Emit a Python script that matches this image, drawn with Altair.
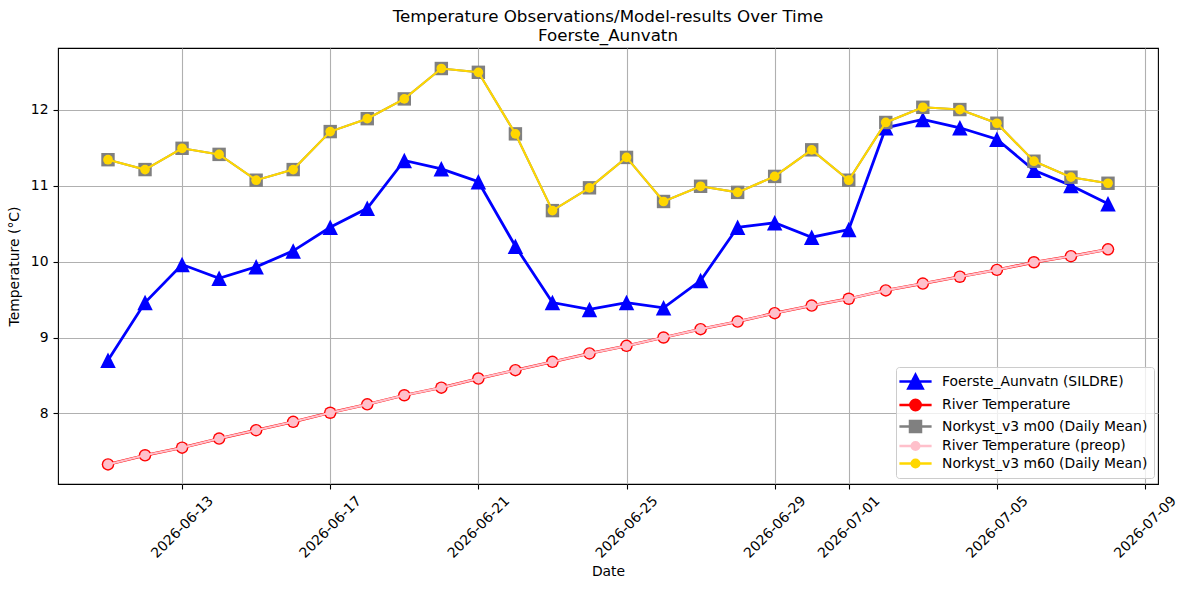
import altair as alt
import pandas as pd

dates = ["2026-06-11", "2026-06-12", "2026-06-13", "2026-06-14", "2026-06-15", "2026-06-16",
         "2026-06-17", "2026-06-18", "2026-06-19", "2026-06-20", "2026-06-21", "2026-06-22",
         "2026-06-23", "2026-06-24", "2026-06-25", "2026-06-26", "2026-06-27", "2026-06-28",
         "2026-06-29", "2026-06-30", "2026-07-01", "2026-07-02", "2026-07-03", "2026-07-04",
         "2026-07-05", "2026-07-06", "2026-07-07", "2026-07-08"]
sildre = [8.70, 9.46, 9.96, 9.78, 9.93, 10.14, 10.45, 10.70, 11.33, 11.22, 11.05, 10.20,
          9.46, 9.37, 9.46, 9.39, 9.75, 10.45, 10.51, 10.32, 10.42, 11.76, 11.87, 11.76,
          11.61, 11.20, 11.00, 10.76]
river = [7.33, 7.45, 7.55, 7.67, 7.78, 7.89, 8.01, 8.12, 8.24, 8.34, 8.46, 8.57, 8.68, 8.79,
         8.89, 9.00, 9.11, 9.21, 9.32, 9.42, 9.51, 9.62, 9.71, 9.80, 9.89, 9.99, 10.07, 10.16]
norkyst_m00 = [11.34, 11.21, 11.49, 11.41, 11.07, 11.21, 11.71, 11.88, 12.14, 12.54, 12.49, 11.68,
               10.67, 10.97, 11.37, 10.79, 10.99, 10.91, 11.12, 11.47, 11.07, 11.83, 12.03, 12.00,
               11.82, 11.32, 11.11, 11.03]
river_preop = [7.33, 7.45, 7.55, 7.67, 7.78, 7.89, 8.01, 8.12, 8.24, 8.34, 8.46, 8.57, 8.68, 8.79,
               8.89, 9.00, 9.11, 9.21, 9.32, 9.42, 9.51, 9.62, 9.71, 9.80, 9.89, 9.99, 10.07, 10.16]
norkyst_m60 = [11.34, 11.21, 11.49, 11.41, 11.07, 11.21, 11.71, 11.88, 12.14, 12.54, 12.49, 11.68,
               10.67, 10.97, 11.37, 10.79, 10.99, 10.91, 11.12, 11.47, 11.07, 11.83, 12.03, 12.00,
               11.82, 11.32, 11.11, 11.03]

series_names = ["Foerste_Aunvatn (SILDRE)", "River Temperature", "Norkyst_v3 m00 (Daily Mean)",
                "River Temperature (preop)", "Norkyst_v3 m60 (Daily Mean)"]
series_colors = ["#0000ff", "#ff0000", "#808080", "#ffc0cb", "#ffd700"]
tick_dates = ["2026-06-13", "2026-06-17", "2026-06-21", "2026-06-25", "2026-06-29",
              "2026-07-01", "2026-07-05", "2026-07-09"]
y_ticks = [8, 9, 10, 11, 12]

FONT = "DejaVu Sans"

df = pd.DataFrame({
    "date": [d + "T00:00:00" for d in dates],
    "sildre": sildre,
    "river": river,
    "m00": norkyst_m00,
    "preop": river_preop,
    "m60": norkyst_m60,
})


def dt(s, h=0, m=0):
    y, mo, d = s.split("-")
    return alt.DateTime(year=int(y), month=int(mo), date=int(d), hours=h, minutes=m)


x_scale = alt.Scale(domain=[dt("2026-06-09", 15, 36), dt("2026-07-09", 8, 24)])
y_scale = alt.Scale(domain=[7.072, 12.81], nice=False, zero=False)

x_axis = alt.Axis(values=[dt(t) for t in tick_dates], format="%Y-%m-%d", labelAngle=315,
                  labelAlign="center", labelBaseline="middle", labelPadding=38,
                  labelOverlap=False, labelFlush=False, title="Date", titlePadding=4)
y_axis = alt.Axis(values=y_ticks, title="Temperature (°C)", labelPadding=5, titlePadding=9)

X = alt.X("date:T", scale=x_scale, axis=x_axis)


def line_layer(field, color, width):
    return alt.Chart(df).mark_line(color=color, strokeWidth=width).encode(
        x=X, y=alt.Y(f"{field}:Q", scale=y_scale, axis=y_axis))


def point_layer(field, color, shape, size):
    return alt.Chart(df).mark_point(filled=True, color=color, shape=shape, size=size,
                                    opacity=1, strokeWidth=0).encode(
        x=X, y=alt.Y(f"{field}:Q", scale=y_scale, axis=y_axis))


tri = "M0,-1L1,1L-1,1Z"

layers = [
    line_layer("sildre", series_colors[0], 2.8),
    point_layer("sildre", series_colors[0], tri, 240),
    line_layer("river", series_colors[1], 2.8),
    point_layer("river", series_colors[1], "circle", 156),
    line_layer("m00", series_colors[2], 2.1),
    point_layer("m00", series_colors[2], "square", 180),
    line_layer("preop", series_colors[3], 2.1),
    point_layer("preop", series_colors[3], "circle", 94),
    line_layer("m60", series_colors[4], 2.1),
    point_layer("m60", series_colors[4], "circle", 94),
]


def circ(r):
    return f"M{r},0A{r},{r},0,1,1,-{r},0A{r},{r},0,1,1,{r},0Z"


line_seg = "M-2.3,0H2.3"
legend_paths = [
    line_seg + "M0,-1L1.05,1L-1.05,1Z",
    line_seg + circ(0.75),
    line_seg + "M-0.8,-0.8H0.8V0.8H-0.8Z",
    line_seg + circ(0.55),
    line_seg + circ(0.55),
]

leg = alt.Legend(orient="none", legendX=838, legendY=319, title=None, labelFont=FONT,
                 labelFontSize=13.9, labelColor="black", labelLimit=400, symbolSize=196,
                 symbolStrokeWidth=2.3, padding=6, symbolOffset=5, labelOffset=18,
                 rowPadding=0.5, symbolOpacity=1,
                 fillColor="rgba(255,255,255,0.8)", strokeColor="#cccccc", cornerRadius=3)

legend_df = pd.DataFrame({"series": series_names, "v": [None] * len(series_names)})
legend_layer = alt.Chart(legend_df).transform_filter("datum.v != null").mark_point(
    filled=True, opacity=1).encode(
    fill=alt.Fill("series:N", scale=alt.Scale(domain=series_names, range=series_colors), legend=leg),
    stroke=alt.Stroke("series:N", scale=alt.Scale(domain=series_names, range=series_colors), legend=leg),
    shape=alt.Shape("series:N", scale=alt.Scale(domain=series_names, range=legend_paths), legend=leg),
)

chart = alt.layer(*layers, legend_layer).properties(
    width=1100, height=436,
    autosize="none",
    background="white",
    padding={"left": 58, "top": 48, "right": 29, "bottom": 106},
    title=alt.TitleParams(
        text=["Temperature Observations/Model-results Over Time", "Foerste_Aunvatn"],
        anchor="middle", font=FONT, fontSize=16.7, fontWeight="normal", color="black",
        offset=3, lineHeight=19),
).configure_view(stroke="black", strokeWidth=1.1).configure_axis(
    labelFont=FONT, labelFontSize=13.9, labelColor="black", titleFont=FONT,
    titleFontSize=13.9, titleFontWeight="normal", titleColor="black",
    grid=True, gridColor="#b0b0b0", gridWidth=1.1, domain=False,
    tickColor="black", tickSize=5, tickWidth=1.1,
)

chart.save("out.html", embed_options={"renderer": "svg", "actions": False})
